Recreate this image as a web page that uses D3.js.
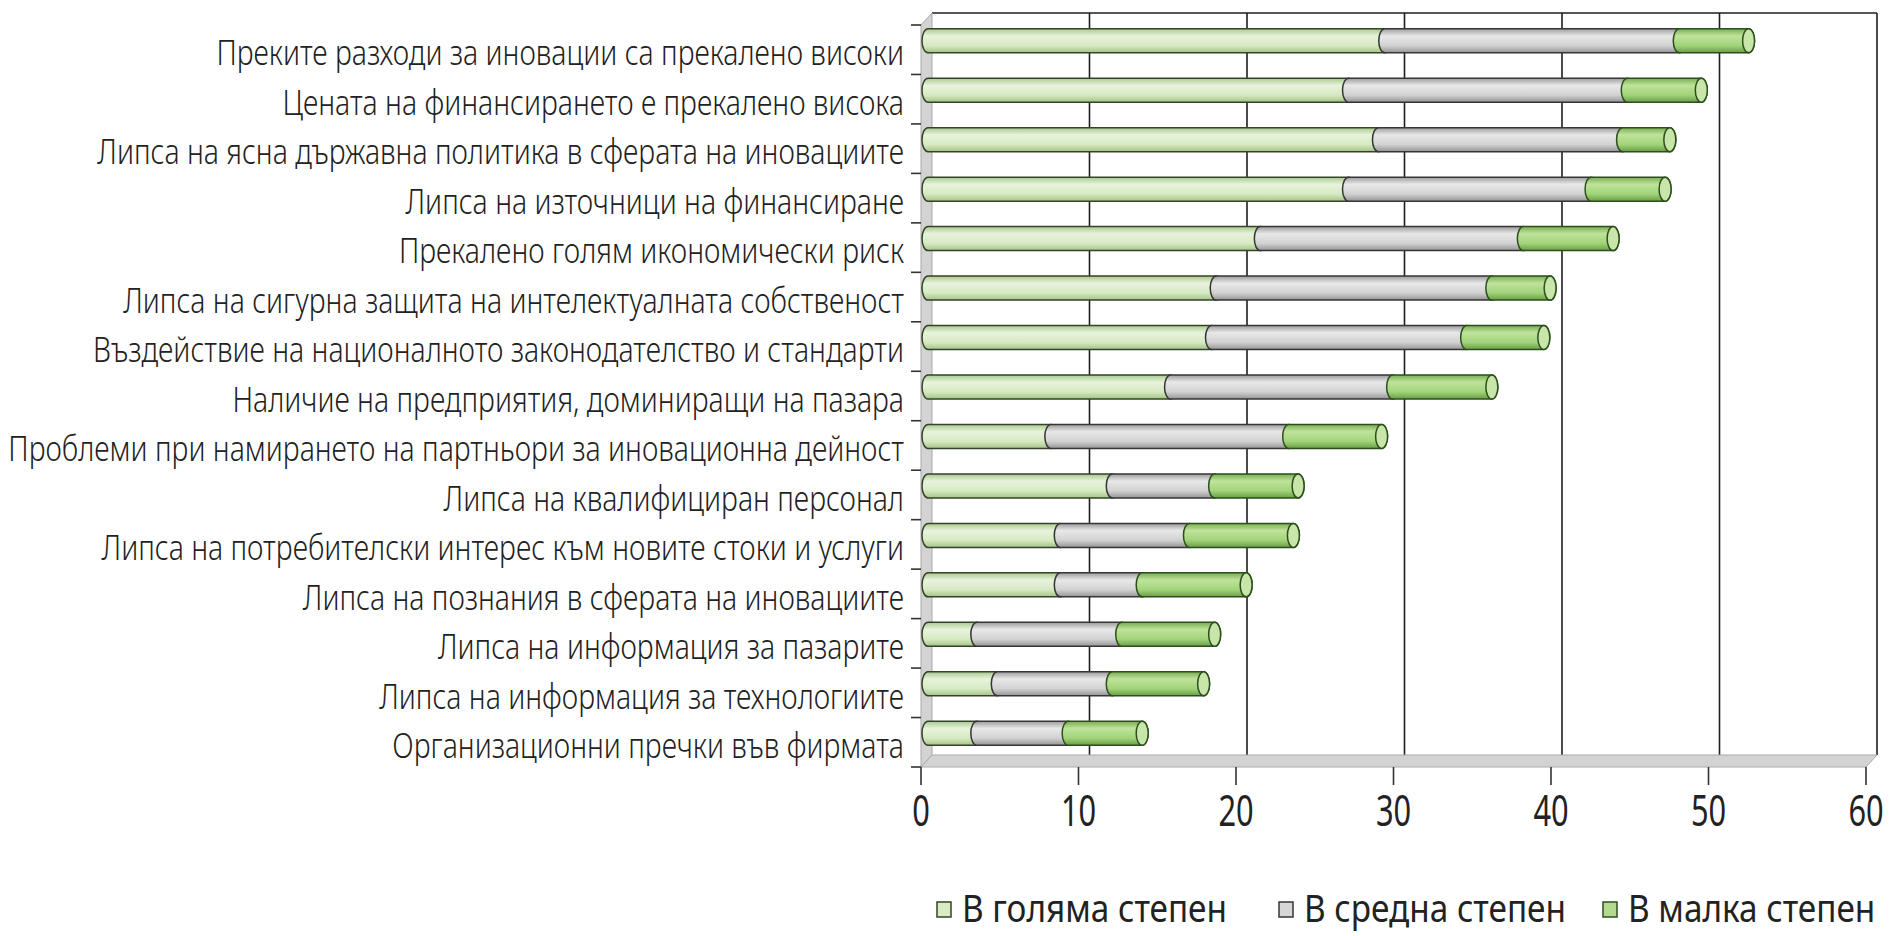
<!DOCTYPE html>
<html lang="bg"><head><meta charset="utf-8">
<script src="https://cdn.jsdelivr.net/npm/d3@7/dist/d3.min.js"></script>
<style>html,body{margin:0;padding:0;background:#fff;overflow:hidden}</style>
</head><body>
<svg id="chart" width="1891" height="936" lang="bg"></svg>
<script>
// ---- data ----
const categories = [
  "Преките разходи за иновации са прекалено високи",
  "Цената на финансирането е прекалено висока",
  "Липса на ясна държавна политика в сферата на иновациите",
  "Липса на източници на финансиране",
  "Прекалено голям икономически риск",
  "Липса на сигурна защита на интелектуалната собственост",
  "Въздействие на националното законодателство и стандарти",
  "Наличие на предприятия, доминиращи на пазара",
  "Проблеми при намирането на партньори за иновационна дейност",
  "Липса на квалифициран персонал",
  "Липса на потребителски интерес към новите стоки и услуги",
  "Липса на познания в сферата на иновациите",
  "Липса на информация за пазарите",
  "Липса на информация за технологиите",
  "Организационни пречки във фирмата"
];
const seriesNames = ["В голяма степен", "В средна степен", "В малка степен"];
const greatExtent  = [29.0, 26.7, 28.6, 26.7, 21.1, 18.3, 18.0, 15.4, 7.8, 11.7, 8.4, 8.4, 3.1, 4.4, 3.1];
const mediumExtent = [18.7, 17.7, 15.5, 15.4, 16.7, 17.5, 16.2, 14.1, 15.1, 6.5, 8.2, 5.2, 9.2, 7.3, 5.8];
const smallExtent  = [4.4, 4.7, 3.0, 4.7, 5.7, 3.7, 4.9, 6.3, 5.9, 5.3, 6.6, 6.6, 5.9, 5.8, 4.7];
const xTickValues  = [0, 10, 20, 30, 40, 50, 60];
const xTickLabels  = ["0", "10", "20", "30", "40", "50", "60"];

// ---- setup ----
const svg = d3.select("#chart");
const FONT = "'Noto Sans', 'Open Sans', sans-serif";
const DX = 11, DY = -12;      // 3D depth of the walls
const BX = 7, BY = -9;        // depth of the cylinders
const x = d3.scaleLinear().domain([0, 60]).range([921, 1866]);
const y = d3.scaleBand().domain(categories).range([25, 767]);
const barH = 24, rx = 6, ry = barH / 2;

const table = categories.map((c, i) => ({cat: c, s0: greatExtent[i], s1: mediumExtent[i], s2: smallExtent[i]}));
const stack = d3.stack().keys(["s0", "s1", "s2"])(table);

// gradients
const defs = svg.append("defs");
const grads = [
  [["0", "#aac98d"], ["0.3", "#e7f3dc"], ["0.7", "#d7eac3"], ["1", "#a3c487"]],
  [["0", "#9c9c9c"], ["0.3", "#e8e8e8"], ["0.7", "#d2d2d2"], ["1", "#959595"]],
  [["0", "#78ad52"], ["0.3", "#bfe39b"], ["0.7", "#a2d47a"], ["1", "#6b9e47"]]
];
grads.forEach((g, i) => {
  const lg = defs.append("linearGradient").attr("id", "g" + i)
    .attr("x1", 0).attr("y1", 0).attr("x2", 0).attr("y2", 1);
  g.forEach(s => lg.append("stop").attr("offset", s[0]).attr("stop-color", s[1]));
});
const strokes = ["#34432a", "#363636", "#2c4f1b"];
const capFill = "#c8e6aa";

const y0 = y.range()[0], y1 = y.range()[1];
const x0 = x(0), x60 = x(60);

// back wall gridlines
svg.append("g").selectAll("line").data(xTickValues.filter(v => v > 0)).join("line")
  .attr("x1", d => x(d) + DX).attr("x2", d => x(d) + DX)
  .attr("y1", y0 + DY).attr("y2", y1 + DY)
  .attr("stroke", "#1e1e1e").attr("stroke-width", 1.6);
svg.append("line").attr("x1", x0 + DX).attr("x2", x60 + DX).attr("y1", y0 + DY).attr("y2", y0 + DY)
  .attr("stroke", "#1e1e1e").attr("stroke-width", 1.6);

// left wall and floor
svg.append("path")
  .attr("d", `M${x0},${y0} L${x0 + DX},${y0 + DY} L${x0 + DX},${y1 + DY} L${x0},${y1} Z`)
  .attr("fill", "#d3d3d3").attr("stroke", "#a9a9a9").attr("stroke-width", 1);
svg.append("path")
  .attr("d", `M${x0},${y1} L${x0 + DX},${y1 + DY} L${x60 + DX},${y1 + DY} L${x60},${y1} Z`)
  .attr("fill", "#d3d3d3").attr("stroke", "#a9a9a9").attr("stroke-width", 1);

// y ticks
const yBounds = categories.map(c => y(c)).concat([y1]);
svg.append("g").selectAll("line").data(yBounds).join("line")
  .attr("x1", x0 - 10).attr("x2", x0).attr("y1", d => d).attr("y2", d => d)
  .attr("stroke", "#333").attr("stroke-width", 1.6);

// x ticks
svg.append("g").selectAll("line").data(xTickValues).join("line")
  .attr("x1", d => x(d)).attr("x2", d => x(d)).attr("y1", y1).attr("y2", y1 + 18)
  .attr("stroke", "#333").attr("stroke-width", 1.6);

// x tick labels (condensed)
const SXT = 0.7;
svg.append("g").selectAll("text").data(xTickValues).join("text")
  .attr("transform", d => `translate(${x(d)},826) scale(${SXT},1)`)
  .attr("text-anchor", "middle")
  .attr("font-family", FONT).attr("font-size", 44).attr("fill", "#222")
  .text((d, i) => xTickLabels[i]);

// category labels (condensed)
const labG = svg.append("g");
const labs = labG.selectAll("text").data(categories).join("text")
  .attr("text-anchor", "end").attr("dominant-baseline", "central")
  .attr("font-family", FONT).attr("font-size", 35).attr("font-weight", 300).attr("fill", "#222")
  .attr("lang", "bg")
  .text(d => d);
const widest = labs.nodes()[8].getComputedTextLength();
const SXL = 896 / widest;
labs.attr("transform", d => `translate(904,${y(d) + y.bandwidth() / 2 + 2}) scale(${SXL},1)`);

// cylinders
const xb = v => x(v) + BX;
const cyOf = c => y(c) + y.bandwidth() / 2 + BY;
function segPath(a, b, cy) {
  const xa = xb(a), xe = xb(b);
  return `M${xa},${cy - ry} L${xe},${cy - ry} A${rx},${ry} 0 0 1 ${xe},${cy + ry} L${xa},${cy + ry} A${rx},${ry} 0 0 1 ${xa},${cy - ry} Z`;
}
const barsG = svg.append("g");
categories.forEach((c, i) => {
  const cy = cyOf(c);
  stack.forEach((s, k) => {
    const d = s[i];
    barsG.append("path").attr("d", segPath(d[0], d[1], cy))
      .attr("fill", `url(#g${k})`).attr("stroke", strokes[k]).attr("stroke-width", 1.5);
  });
  const tot = stack[2][i][1];
  barsG.append("ellipse").attr("cx", xb(tot)).attr("cy", cy).attr("rx", rx).attr("ry", ry)
    .attr("fill", capFill).attr("stroke", strokes[2]).attr("stroke-width", 1.5);
});

// legend
const legX = [937, 1279, 1603];
const legFills = ["#d8ecc4", "#d6d6d6", "#b4da8e"];
const legG = svg.append("g");
seriesNames.forEach((n, i) => {
  legG.append("rect").attr("x", legX[i]).attr("y", 902).attr("width", 14).attr("height", 15)
    .attr("fill", legFills[i]).attr("stroke", strokes[i]).attr("stroke-width", 1.5);
});
const legT = legG.selectAll("text").data(seriesNames).join("text")
  .attr("font-family", FONT).attr("font-size", 38).attr("fill", "#222")
  .attr("lang", "bg").text(d => d);
const w0 = legT.nodes()[0].getComputedTextLength();
const SXG = 265 / w0;
legT.attr("transform", (d, i) => `translate(${legX[i] + 25},922) scale(${SXG},1)`);
</script>
</body></html>
